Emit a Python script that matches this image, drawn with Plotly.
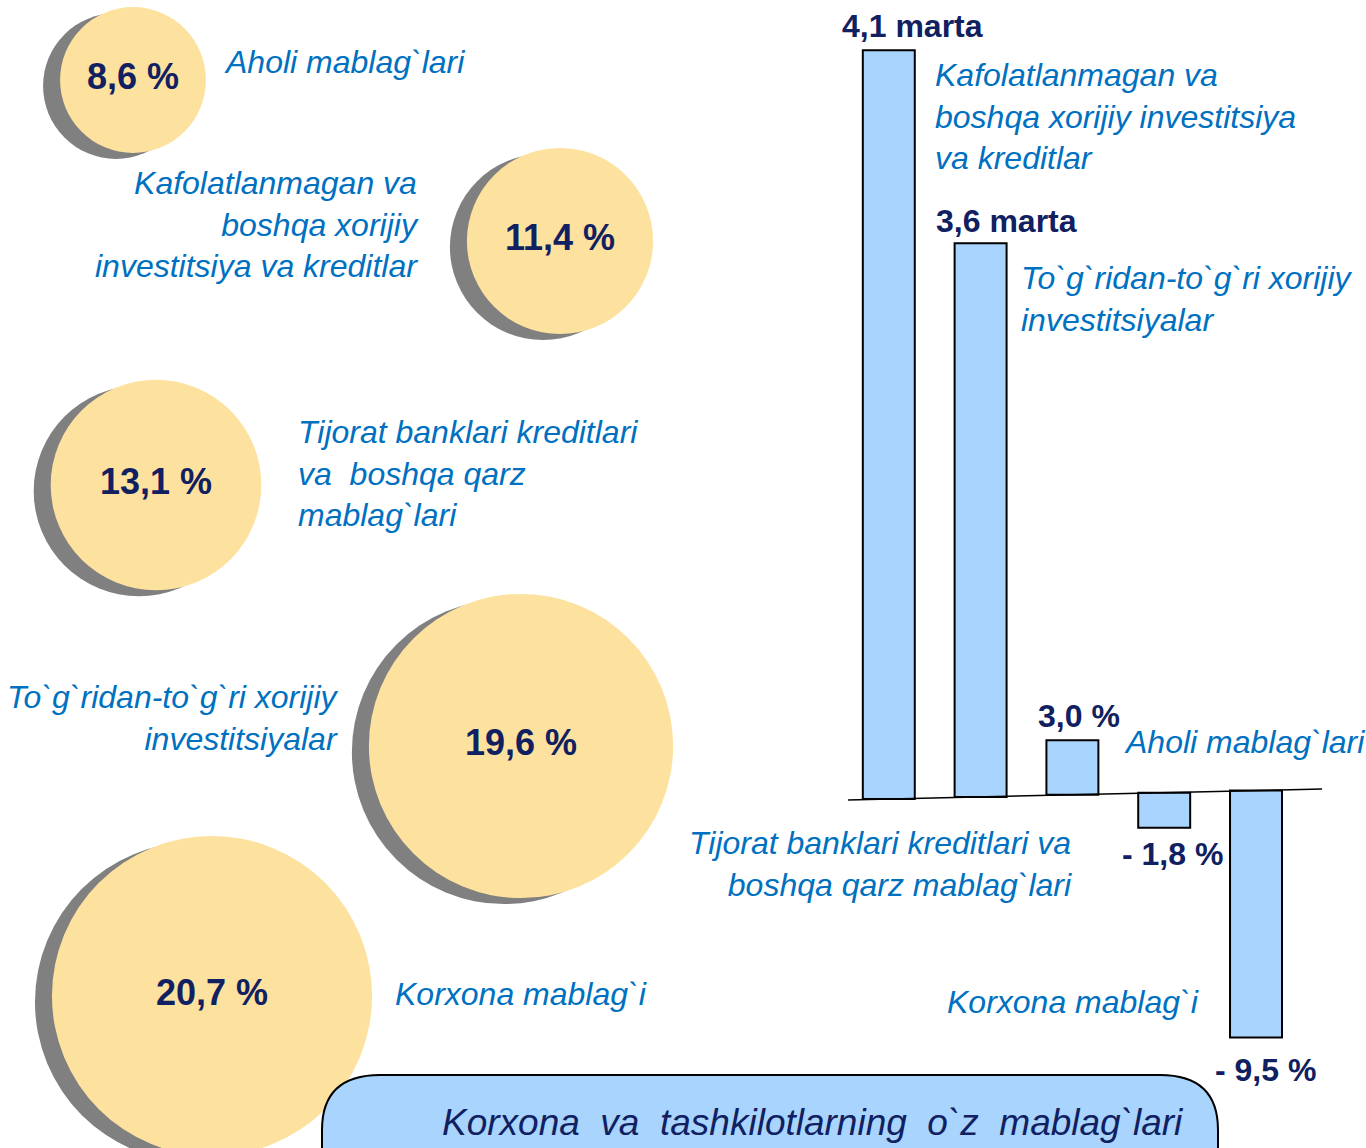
import plotly.graph_objects as go

# --- data ---
bubble_values = [8.6, 11.4, 13.1, 19.6, 20.7]
bubble_names = [
    "Aholi mablag`lari",
    "Kafolatlanmagan va<br>boshqa xorijiy<br>investitsiya va kreditlar",
    "Tijorat banklari kreditlari<br>va\u00a0\u00a0boshqa qarz<br>mablag`lari",
    "To`g`ridan-to`g`ri xorijiy<br>investitsiyalar",
    "Korxona mablag`i",
]

bar_names = [
    "Kafolatlanmagan va<br>boshqa xorijiy investitsiya<br>va kreditlar",
    "To`g`ridan-to`g`ri xorijiy<br>investitsiyalar",
    "Aholi mablag`lari",
    "Tijorat banklari kreditlari va<br>boshqa qarz mablag`lari",
    "Korxona mablag`i",
]
bar_labels = ["4,1 marta", "3,6 marta", "3,0 %", "- 1,8 %", "- 9,5 %"]
bar_heights = [28.8, 21.3, 2.1, -1.35, -9.5]  # schematic bar lengths as drawn

title_text = "Korxona\u00a0\u00a0va\u00a0\u00a0tashkilotlarning\u00a0\u00a0o`z\u00a0\u00a0mablag`lari"

# --- layout / style ---
W, H = 1366, 1148
YELLOW = "#FDE19E"
SHADOW = "#808080"
BLUE_TXT = "#0070C0"
NAVY = "#102060"
BAR_FILL = "#A8D4FE"
FONT = "Liberation Sans, Arial, sans-serif"

bubble_xy = [(133, 80), (560, 241), (156, 485), (521, 746), (212, 996)]
shadow_dx, shadow_dy = -17, 6
# label position (x, y, anchor) for each bubble name
bubble_label_pos = [(222, 62, "left"), (421, 224, "right"), (296, 473, "left"),
                    (341, 718, "right"), (393, 994, "left")]
bar_label_pos = [(933, 116, "left"), (1019, 299, "left"), (1122, 742, "left"),
                 (1074, 864, "right"), (1201, 1002, "right")]
value_dx = [24, 26, 7, 8, 9]
value_dy = [4, 2, 4, -6, -12]
tilt = 0.082  # slope of the hand-drawn zero line, per bar

# bar panel geometry: bar 0 centre at 888.8 px, 91.8 px per bar
x2_range = [-0.5, 4.9]
x2_dom = [(888.8 - 0.5 * 91.8) / W, (888.8 + 4.9 * 91.8) / W]


def bubble_size(v):
    return 14.4 * v + 22


def fmt_pct(v):
    return f"{v:.1f}".replace(".", ",") + " %"


sizes = [bubble_size(v) for v in bubble_values]
bx = [p[0] for p in bubble_xy]
by = [p[1] for p in bubble_xy]

fig = go.Figure()

# shadows
fig.add_trace(go.Scatter(
    x=[x + shadow_dx for x in bx], y=[y + shadow_dy for y in by],
    mode="markers",
    marker=dict(size=sizes, color=SHADOW, line=dict(width=0), opacity=1),
    hoverinfo="skip",
))
# bubbles
fig.add_trace(go.Scatter(
    x=bx, y=by, mode="markers+text",
    marker=dict(size=sizes, color=YELLOW, line=dict(width=0), opacity=1),
    text=[fmt_pct(v) for v in bubble_values],
    textposition="middle center",
    textfont=dict(family=FONT, size=36, color=NAVY, weight=700),
    hoverinfo="skip",
))

# bars (tilted baseline)
bases = [0.036 + tilt * i for i in range(len(bar_heights))]
fig.add_trace(go.Bar(
    x=list(range(len(bar_heights))), y=bar_heights, base=bases, width=0.566,
    marker=dict(color=BAR_FILL, line=dict(color="black", width=2)),
    xaxis="x2", yaxis="y2", hoverinfo="skip",
))

annotations = []
for name, (x, y, anc) in zip(bubble_names, bubble_label_pos):
    annotations.append(dict(
        x=x, y=y, xref="x", yref="y", text=name, showarrow=False,
        xanchor=anc, yanchor="middle", align=anc,
        font=dict(family=FONT, size=32, color=BLUE_TXT, style="italic"),
    ))
for name, (x, y, anc) in zip(bar_names, bar_label_pos):
    annotations.append(dict(
        x=x, y=y, xref="x", yref="y", text=name, showarrow=False,
        xanchor=anc, yanchor="middle", align=anc,
        font=dict(family=FONT, size=32, color=BLUE_TXT, style="italic"),
    ))
for i, (lab, h) in enumerate(zip(bar_labels, bar_heights)):
    annotations.append(dict(
        x=i, y=bases[i] + h, xref="x2", yref="y2", text=lab, showarrow=False,
        xanchor="center", yanchor="bottom" if h > 0 else "top",
        xshift=value_dx[i], yshift=value_dy[i],
        font=dict(family=FONT, size=32, color=NAVY, weight=700),
    ))
annotations.append(dict(
    x=1186, y=1122, xref="x", yref="y", text=title_text, showarrow=False,
    xanchor="right", yanchor="middle",
    font=dict(family=FONT, size=37, color=NAVY, style="italic"),
))

shapes = [
    # zero line of the bar chart
    dict(type="line", xref="x2", yref="y2", x0=-0.444, y0=0, x1=4.72, y1=0.423,
         line=dict(color="black", width=1.5)),
    # rounded title box
    dict(type="path", xref="x", yref="y", layer="above",
         path="M 322,1165 L 322,1130 Q 322,1075 380,1075 L 1160,1075 "
              "Q 1218,1075 1218,1130 L 1218,1165 Z",
         fillcolor=BAR_FILL, line=dict(color="black", width=2)),
]

y2_top = 800 / 26
fig.update_layout(
    width=W, height=H, margin=dict(l=0, r=0, t=0, b=0),
    paper_bgcolor="white", plot_bgcolor="white", showlegend=False,
    xaxis=dict(range=[0, W], visible=False, domain=[0, 1]),
    yaxis=dict(range=[H, 0], visible=False, domain=[0, 1]),
    xaxis2=dict(range=x2_range, visible=False, anchor="y2", domain=x2_dom),
    yaxis2=dict(range=[y2_top - H / 26, y2_top], visible=False, anchor="x2",
                domain=[0, 1]),
    annotations=annotations, shapes=shapes,
)

fig.write_html("out.html", config={"displayModeBar": False},
               post_script="document.body.style.margin='0';")
